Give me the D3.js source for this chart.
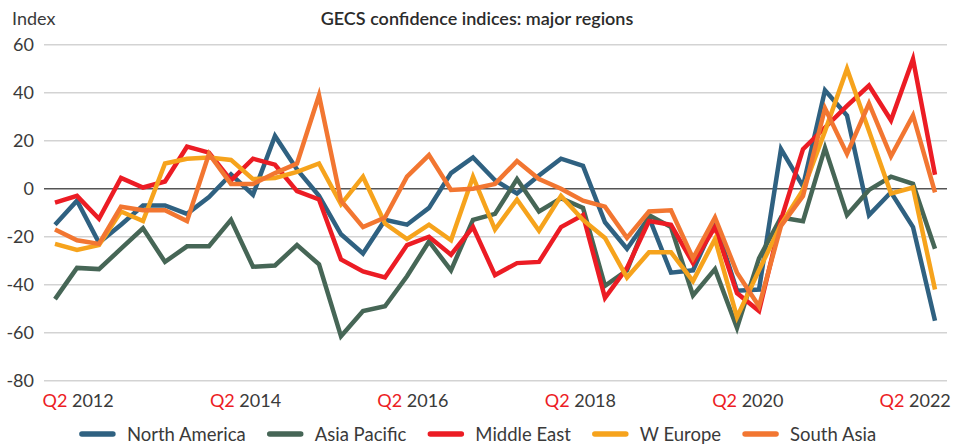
<!DOCTYPE html>
<html>
<head>
<meta charset="utf-8">
<script src="https://cdn.jsdelivr.net/npm/d3@7"></script>
<style>
  body { margin: 0; background: #fff; }
  text { font-family: Lato, "Noto Sans", sans-serif; fill: #3a3a3a; }
</style>
</head>
<body>
<div id="chart"></div>
<script>
// quarters Q2 2012 .. Q2 2022 (41 points)
var nQuarters = 41;
var xLabels = ["2012", "2014", "2016", "2018", "2020", "2022"];
var yTicks = [60, 40, 20, 0, -20, -40, -60, -80];

var seriesNames = ["North America", "Asia Pacific", "Middle East", "W Europe", "South Asia"];
var seriesColors = ["#2f6181", "#466656", "#ec1c24", "#f6a31c", "#f27631"];

var northAmerica = [-15, -5, -22.5, -15, -7, -7, -10.5, -3.5, 6, -2.5, 22, 8, -3, -19, -27, -13, -15, -8, 6.5, 13,
  3.5, -2, 5.5, 12.5, 9.5, -14, -25, -12, -35, -34, -14, -42.5, -42, 16.5, 1, 41, 30.5, -11, -1.5, -16, -55];
var asiaPacific = [-46, -33, -33.5, -25, -16.5, -30.5, -24, -24, -13, -32.5, -32, -23.5, -31.5, -61.5, -51, -49, -36.5, -22, -34, -13,
  -10.5, 4, -9.5, -4, -8, -40.5, -34, -11, -16, -44.5, -33.5, -58, -29, -12, -13.5, 17, -11, -0.5, 5, 2, -25];
var middleEast = [-5.8, -3, -12.5, 4.5, 0.5, 3, 17.5, 15, 3.5, 12.5, 10, -1, -4.5, -29.5, -34.5, -37, -23.5, -20, -27.5, -16,
  -36, -31, -30.5, -16, -11, -45.5, -33, -13.5, -15, -31, -16, -43.5, -51, -13, 16.5, 25.5, 34.5, 43, 28.5, 54, 5.8];
var wEurope = [-23, -25.5, -23.5, -9.5, -13.5, 10.5, 12.5, 13, 12, 4, 4.5, 7, 10.5, -6.5, 5, -14.5, -21, -15, -21.5, 5,
  -17, -4.5, -17.5, -3, -13, -20.5, -37, -26.5, -26.5, -38.5, -21, -53.5, -34, -15, -0.5, 24, 50, 24, -2, 0.5, -42];
var southAsia = [-17, -21.5, -23, -7.5, -9, -9, -13.5, 14.5, 2, 2, 6.5, 10.5, 38.9, -5, -16, -12, 5, 14, -0.5, 0,
  2, 11.5, 4, 0, -5, -7.5, -20.5, -9.5, -9, -29, -12, -35, -49, -15.5, -3, 33.5, 14.5, 35.5, 13.5, 30.5, -1.5];

var seriesValues = [northAmerica, asiaPacific, middleEast, wEurope, southAsia];

var width = 965, height = 445;

var svg = d3.select("#chart")
  .append("svg")
    .attr("width", width)
    .attr("height", height);

var x = d3.scaleLinear()
  .domain([0, nQuarters - 1])
  .range([55, 935]);

var y = d3.scaleLinear()
  .domain([-80, 60])
  .range([380.7, 44.7]);

// gridlines
svg.append("g")
  .selectAll("line")
  .data(yTicks)
  .enter()
  .append("line")
    .attr("x1", 44)
    .attr("x2", 947)
    .attr("y1", function(d) { return y(d); })
    .attr("y2", function(d) { return y(d); })
    .style("stroke", function(d) { return d === 0 ? "#555" : "#d3d3d3"; })
    .style("stroke-width", 1.6);

// y tick labels
svg.append("g")
  .selectAll("text")
  .data(yTicks)
  .enter()
  .append("text")
    .attr("x", 34)
    .attr("y", function(d) { return y(d) + 6.5; })
    .attr("text-anchor", "end")
    .style("font-size", "18px")
    .text(function(d) { return d; });

// x labels (Q2 in red)
var xl = d3.scalePoint()
  .domain(xLabels)
  .range([x(1.05), x(39.1)]);

var xt = svg.append("g")
  .selectAll("text")
  .data(xLabels)
  .enter()
  .append("text")
    .attr("x", function(d) { return xl(d); })
    .attr("y", 407)
    .attr("text-anchor", "middle")
    .style("font-size", "18px");
xt.append("tspan").style("fill", "#ec1c24").text("Q2 ");
xt.append("tspan").text(function(d) { return d; });

// lines
var line = d3.line()
  .x(function(d, i) { return x(i); })
  .y(function(d) { return y(d); });

svg.append("g")
  .selectAll("path")
  .data(seriesValues)
  .enter()
  .append("path")
    .attr("d", line)
    .style("fill", "none")
    .style("stroke", function(d, i) { return seriesColors[i]; })
    .style("stroke-width", 4.5)
    .style("stroke-linejoin", "miter")
    .style("stroke-linecap", "butt");

// title and axis label
svg.append("text")
  .attr("x", 477)
  .attr("y", 25)
  .attr("text-anchor", "middle")
  .style("font-size", "18px")
  .style("font-weight", "600")
  .style("fill", "#2b2b2b")
  .text("GECS confidence indices: major regions");

svg.append("text")
  .attr("x", 12)
  .attr("y", 25)
  .style("font-size", "18px")
  .text("Index");

// legend
var legend = svg.append("g");
var lx = 0;
seriesNames.forEach(function(name, i) {
  var g = legend.append("g").attr("transform", "translate(" + lx + ",0)");
  g.append("line")
    .attr("x1", 2).attr("x2", 33)
    .attr("y1", 0).attr("y2", 0)
    .style("stroke", seriesColors[i])
    .style("stroke-width", 5.5)
    .style("stroke-linecap", "round");
  var t = g.append("text")
    .attr("x", 47)
    .attr("y", 6.5)
    .style("font-size", "18.5px")
    .text(name);
  lx += 47 + t.node().getComputedTextLength() + 22;
});
lx -= 22;
legend.attr("transform", "translate(" + (478 - lx / 2) + ",434)");
</script>
</body>
</html>
